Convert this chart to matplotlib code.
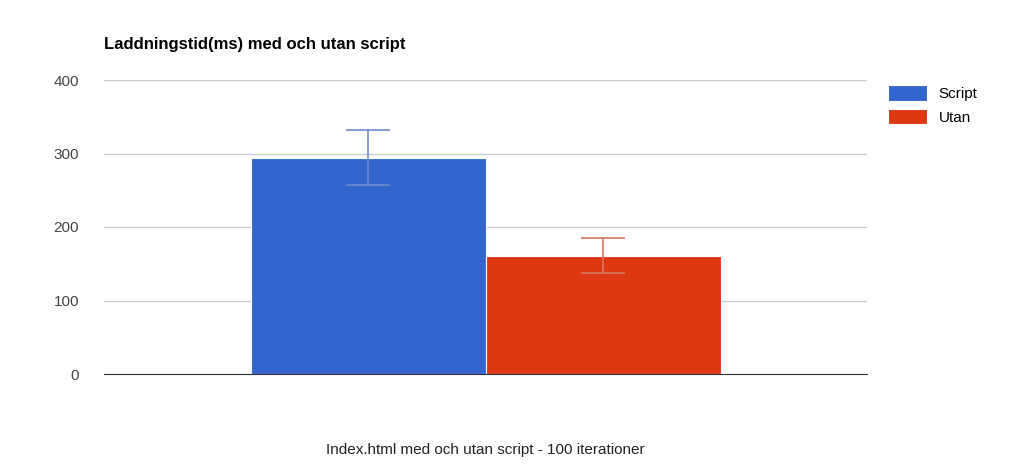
import matplotlib
matplotlib.use("Agg")
import matplotlib.pyplot as plt

series = ["Script", "Utan"]
values = [294, 161]
errors = [37.5, 24]
colors = ["#3366cc", "#dc3912"]
err_colors = ["#6f8ccc", "#d8765f"]
yticks = [0, 100, 200, 300, 400]

plt.rcParams["font.family"] = "Liberation Sans"
fig = plt.figure(figsize=(10.23, 4.74), dpi=100)
ax = fig.add_axes([104/1023, 1-374/474, 763/1023, 294/474])
w = 235/763
xs = [-w/2, w/2]
for i, s in enumerate(series):
    ax.bar(xs[i], values[i], width=w, color=colors[i], label=s, edgecolor="white", linewidth=0.8)
    ax.errorbar(xs[i], values[i], yerr=errors[i], color=err_colors[i], capsize=16, elinewidth=1.2, capthick=1.2)
ax.set_xlim(-0.5, 0.5)
ax.set_ylim(0, 400)
ax.set_yticks(yticks)
ax.set_xticks([])
ax.tick_params(axis="y", length=0, labelsize=11, labelcolor="#444444", pad=18)
ax.grid(axis="y", color="#cccccc", linewidth=1)
ax.set_axisbelow(True)
for sp in ["top", "right", "left"]:
    ax.spines[sp].set_visible(False)
ax.spines["bottom"].set_color("#333333")
ax.set_xlabel("Index.html med och utan script - 100 iterationer", fontsize=11, color="#222222", labelpad=50)
fig.text(104/1023, 1-44/474, "Laddningstid(ms) med och utan script", fontsize=12, fontweight="bold", va="center")
ax.legend(loc="upper left", bbox_to_anchor=(1.01, 1.03), frameon=False, fontsize=11, handlelength=2.5, handleheight=1.2)
fig.savefig("out.png", dpi=100)
